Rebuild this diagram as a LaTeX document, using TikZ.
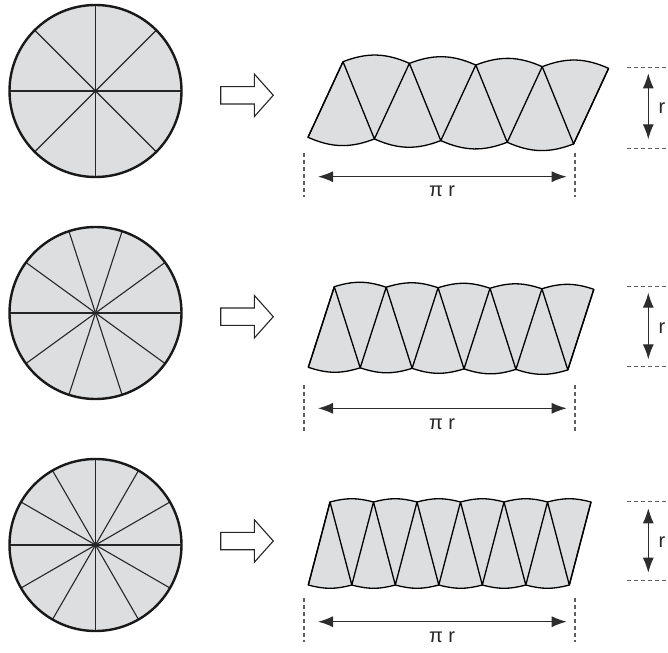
\documentclass[tikz,border=0pt]{standalone}
\usepackage{fontspec}
\setmainfont{Liberation Sans}
\usetikzlibrary{arrows.meta}
\definecolor{secfill}{RGB}{221,222,224}
\definecolor{dashgray}{RGB}{95,95,95}
\definecolor{dimline}{RGB}{45,45,45}

\newcommand\mystrip[9]{% #1 prefix, #2 n, #3 xb0, #4 xt0, #5 dx, #6 yb0, #7 yt0, #8 slope, #9 bend
  \pgfmathtruncatemacro\nm{#2-1}
  \foreach \k in {0,...,#2} {
    \coordinate (#1b\k) at ({#3+#5*\k}, {-(#6+#8*#5*\k)});
    \coordinate (#1t\k) at ({#4+#5*\k}, {-(#7+#8*#5*\k)});
  }
  \path[stripfill] (#1b0)
    \foreach \k [evaluate=\k as \j using int(\k+1)] in {0,...,\nm} { to[bend right=#9] (#1b\j) }
    -- (#1t#2)
    \foreach \k [evaluate=\k as \j using int(#2-\k-1)] in {0,...,\nm} { to[bend right=#9] (#1t\j) }
    -- cycle;
  \draw[stripline] (#1b0) \foreach \k in {0,...,#2} { -- (#1b\k) -- (#1t\k) };
}

\begin{document}
\begin{tikzpicture}[x=1pt,y=1pt,
  circfill/.style={fill=secfill},
  spoke/.style={line width=1.1pt, draw=black!85},
  rim/.style={line width=2.4pt, draw=black!90},
  stripfill/.style={fill=secfill, draw=black, line width=1.3pt, line join=round},
  stripline/.style={draw=black, line width=1.3pt, line join=round},
  blockarrow/.style={draw=black!85, line width=1.1pt, fill=white, line join=miter},
  dashline/.style={draw=dashgray, line width=1.1pt, dash pattern=on 4pt off 3pt},
  dimarrow/.style={draw=dimline, line width=1.1pt, {Latex[length=15pt,width=11pt]}-{Latex[length=15pt,width=11pt]}},
  lab/.style={font=\fontsize{20}{22}\selectfont, text=black!85, inner sep=0pt}
]
\useasboundingbox (0,0) rectangle (668,-652);

% circles
\foreach \cy/\n [count=\i] in {91/8, 313/10, 545/12} {
  \coordinate (c\i) at (95.5,-\cy);
  \fill[circfill] (c\i) circle (86);
  \foreach \k in {1,...,\n} \draw[spoke] (c\i) -- ++({360/\n*\k}:86);
  \draw[rim] (c\i) circle (86);
}

% block arrows
\foreach \ay [count=\i] in {95.3, 316.7, 541} {
  \draw[blockarrow] (220.7,-\ay+8.7) -- (254.3,-\ay+8.7) -- (254.3,-\ay+21.3)
     -- (273.3,-\ay) -- (254.3,-\ay-21.3) -- (254.3,-\ay-8.7) -- (220.7,-\ay-8.7) -- cycle;
}

% strips
\mystrip{r1}{4}{308}{343}{66.4}{137.3}{61.7}{0.025}{22.5}
\mystrip{r2}{5}{308.3}{334.3}{51.9}{367.3}{286.7}{0.01}{18}
\mystrip{r3}{6}{308.3}{330}{43.5}{585}{502}{0}{15}

% horizontal dimensions (pi r)
\foreach \ya/\yb/\yar/\ylab [count=\i] in {153/197/176.7/191, 385/431/408.3/424, 598/642/621.7/637} {
  \coordinate (hl\i a) at (304,-\ya);  \coordinate (hl\i b) at (304,-\yb);
  \coordinate (hr\i a) at (575,-\ya);  \coordinate (hr\i b) at (575,-\yb);
  \draw[dashline] (hl\i a) -- (hl\i b);
  \draw[dashline] (hr\i a) -- (hr\i b);
  \coordinate (ha\i) at (318,-\yar); \coordinate (hb\i) at (566.7,-\yar);
  \draw[dimarrow] (ha\i) -- (hb\i);
  \node[lab] (pr\i) at (442,-\ylab) {π r};
}

% vertical dimensions (r)
\foreach \yt/\yb/\yat/\yab/\ylab [count=\i] in {67.3/148.3/73.3/139.3/108.3, 286.7/366.7/292.7/359.3/328.3, 501.7/580.7/508.3/572.7/541.7} {
  \coordinate (vt\i a) at (627,-\yt); \coordinate (vt\i b) at (668,-\yt);
  \coordinate (vb\i a) at (627,-\yb); \coordinate (vb\i b) at (668,-\yb);
  \draw[dashline] (vt\i a) -- (vt\i b);
  \draw[dashline] (vb\i a) -- (vb\i b);
  \coordinate (va\i) at (648.3,-\yat); \coordinate (vz\i) at (648.3,-\yab);
  \draw[dimarrow] (va\i) -- (vz\i);
  \node[lab] (rr\i) at (662,-\ylab) {r};
}
\end{tikzpicture}
\end{document}
